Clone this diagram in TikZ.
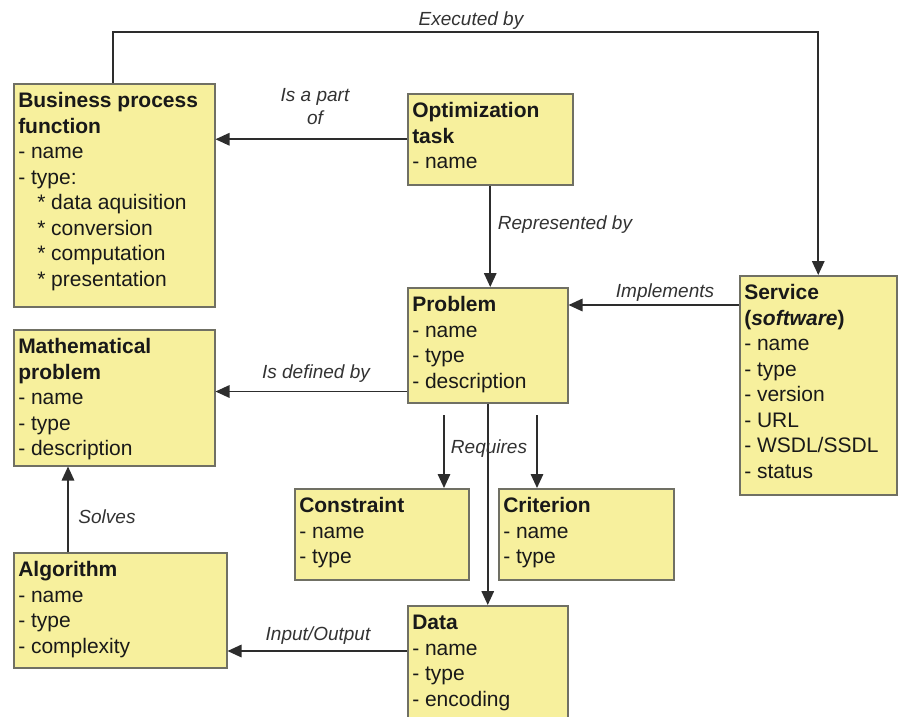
\documentclass[tikz,border=0pt]{standalone}
\usepackage{fontspec}
\setmainfont{Liberation Sans}
\usetikzlibrary{arrows.meta,calc}

\definecolor{boxfill}{RGB}{247,240,157}
\definecolor{boxline}{RGB}{112,112,100}
\definecolor{linkline}{RGB}{45,45,45}
\definecolor{labeltext}{RGB}{50,50,50}

% class box: width, height, content; first baseline 24pt below the top edge
\newcommand{\clsbody}[3]{%
  \begin{minipage}[t][#2][t]{#1}%
    \fontsize{21}{25.5}\selectfont
    \setlength{\parindent}{0pt}\leftskip=4.5pt\relax
    \rule{0pt}{24pt}#3%
  \end{minipage}}
\newcommand{\sub}{\hspace*{19pt}*~}

\tikzset{
  clsbox/.style={draw=boxline, fill=boxfill, line width=1.5pt, inner sep=0pt,
    anchor=north west, text=black!90},
  link/.style={draw=linkline, line width=1.6pt,
    -{Triangle[length=14pt,width=12.5pt]}},
  linklabel/.style={font=\fontsize{19}{23}\selectfont\itshape, text=labeltext,
    inner sep=0pt}
}

\begin{document}
\begin{tikzpicture}[x=1pt,y=-1pt]
\useasboundingbox (0,0) rectangle (899,716);

% classes
\node[clsbox] (bpf) at (13,83) {\clsbody{201pt}{223pt}{%
  \textbf{Business process}\\\textbf{function}\\- name\\- type:\\
  \sub data aquisition\\\sub conversion\\\sub computation\\\sub presentation}};
\node[clsbox] (opt) at (407,93) {\clsbody{165pt}{91pt}{%
  \textbf{Optimization}\\\textbf{task}\\- name}};
\node[clsbox] (prob) at (407,287) {\clsbody{160pt}{115pt}{%
  \textbf{Problem}\\- name\\- type\\- description}};
\node[clsbox] (svc) at (739,275) {\clsbody{157pt}{219pt}{%
  \textbf{Service}\\\textbf{(\textit{software})}\\- name\\- type\\- version\\- URL\\- WSDL/SSDL\\- status}};
\node[clsbox] (mp) at (13,329) {\clsbody{201pt}{136pt}{%
  \textbf{Mathematical}\\\textbf{problem}\\- name\\- type\\- description}};
\node[clsbox] (alg) at (13,552) {\clsbody{213pt}{115pt}{%
  \textbf{Algorithm}\\- name\\- type\\- complexity}};
\node[clsbox] (con) at (294,488) {\clsbody{174pt}{91pt}{%
  \textbf{Constraint}\\- name\\- type}};
\node[clsbox] (crit) at (498,488) {\clsbody{175pt}{91pt}{%
  \textbf{Criterion}\\- name\\- type}};
\node[clsbox] (data) at (407,605) {\clsbody{160pt}{130pt}{%
  \textbf{Data}\\- name\\- type\\- encoding}};

% helper points for the links
\coordinate (toprow) at (0,32);
\coordinate (execstart) at ($(bpf.north west)+(100,0)$);
\coordinate (implstart) at ($(svc.north west)+(0,30)$);
\coordinate (defstart) at ($(prob.south west)+(0,-12)$);
\coordinate (iostart) at ($(data.north west)+(0,46)$);
\coordinate (solvestart) at ($(alg.north west)+(55,0)$);
\coordinate (reqa) at (444,415);
\coordinate (reqb) at (537,415);

% links
\draw[link] (execstart) |- (svc.north |- toprow) -- (svc.north);
\draw[link] (opt.west) -- (opt.west -| bpf.east);
\draw[link] (opt.south) -- (opt.south |- prob.north);
\draw[link] (implstart) -- (implstart -| prob.east);
\draw[link] (defstart) -- (defstart -| mp.east);
\draw[link] (reqa) -- (reqa |- con.north);
\draw[link] (reqb) -- (reqb |- crit.north);
\draw[link] (prob.south) -- (prob.south |- data.north);
\draw[link] (iostart) -- (iostart -| alg.east);
\draw[link] (solvestart) -- (solvestart |- mp.south);

% link labels
\node[linklabel, anchor=base] (lexec) at (471,25) {Executed by};
\node[linklabel, anchor=north, align=center] (lpart) at (315,88) {Is a part\\of};
\node[linklabel, anchor=base] (lrep) at (565,229) {Represented by};
\node[linklabel, anchor=base] (limpl) at (665,297) {Implements};
\node[linklabel, anchor=base] (ldef) at (316,378) {Is defined by};
\node[linklabel, anchor=base] (lreq) at (489,453) {Requires};
\node[linklabel, anchor=base] (lsolve) at (107,523) {Solves};
\node[linklabel, anchor=base] (lio) at (318,640) {Input/Output};
\end{tikzpicture}
\end{document}
